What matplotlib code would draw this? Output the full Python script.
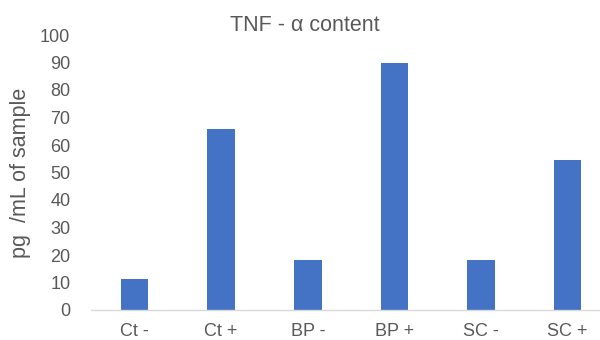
import matplotlib
matplotlib.use("Agg")
import matplotlib.pyplot as plt

categories = ["Ct -", "Ct +", "BP -", "BP +", "SC -", "SC +"]
tnf_values = [11.4, 65.8, 18.2, 90.0, 18.2, 54.5]
y_ticks = [0, 10, 20, 30, 40, 50, 60, 70, 80, 90, 100]

plt.rcParams["font.family"] = ["Liberation Sans", "DejaVu Sans"]

fig = plt.figure(figsize=(6.0, 3.4), dpi=100)
ax_left, ax_right = 91.2, 611.0
ax = fig.add_axes([ax_left / 600, 30 / 340, (ax_right - ax_left) / 600, 275 / 340])

x = range(len(categories))
ax.bar(x, tnf_values, width=0.318, color="#4472C4", zorder=2)

ax.set_xlim(-0.5, len(categories) - 0.5)
ax.set_ylim(0, 100)
ax.set_yticks(y_ticks)
ax.set_xticks(list(x))
ax.set_xticklabels(categories)

for side in ("top", "right", "left"):
    ax.spines[side].set_visible(False)
ax.spines["bottom"].set_color("#D9D9D9")
ax.spines["bottom"].set_linewidth(1.0)

ax.tick_params(axis="both", length=0, labelsize=13, colors="#595959")
ax.tick_params(axis="y", pad=15)
ax.tick_params(axis="x", pad=9)

ax.set_ylabel("pg  /mL of sample", fontsize=15.5, color="#595959")
ax.yaxis.set_label_coords(-(ax_left - 31) / (ax_right - ax_left), 0.5)

fig.text(305 / 600, 1 - 25.5 / 340, "TNF - α content", ha="center", va="center",
         fontsize=15.5, color="#595959")

fig.savefig("out.png", dpi=100)
